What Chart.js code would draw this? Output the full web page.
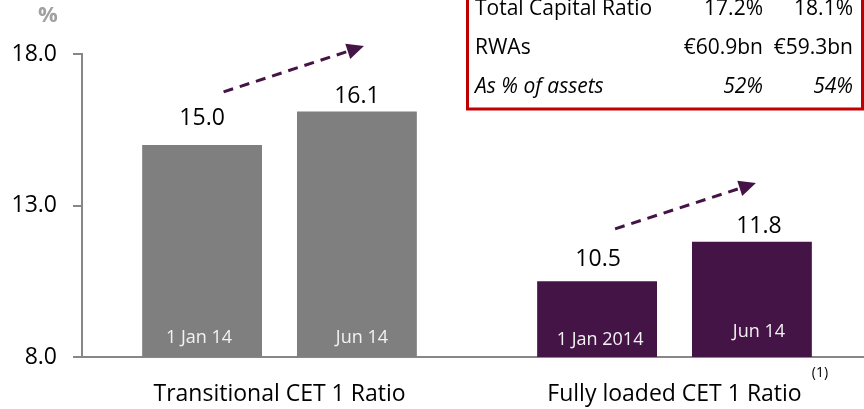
<!DOCTYPE html>
<html>
<head>
<meta charset="utf-8">
<script src="https://cdn.jsdelivr.net/npm/chart.js@4.4.0/dist/chart.umd.min.js"></script>
<style>
  html, body { margin: 0; padding: 0; background: #fff; overflow: hidden; }
  #wrap { position: relative; width: 872px; height: 409px; }
</style>
</head>
<body>
<div id="wrap"><canvas id="capitalChart"></canvas></div>
<script>
// chart data
const categories = ['Transitional CET 1 Ratio', 'Fully loaded CET 1 Ratio'];
const janValues = [15.0, 10.5];
const junValues = [16.1, 11.8];
const janBarLabels = ['1 Jan 14', '1 Jan 2014'];
const junBarLabels = ['Jun 14', 'Jun 14'];
const yTicks = [8, 13, 18];

// box in the top right corner
const tableRows = ['Total Capital Ratio', 'RWAs', 'As % of assets'];
const tableJan = ['17.2%', '€60.9bn', '52%'];
const tableJun = ['18.1%', '€59.3bn', '54%'];

const FONT = '"Open Sans", sans-serif';
const GREY = '#7f7f7f';
const PURPLE = '#451446';

// extra drawing: values, labels in bars, arrows, table
const extras = {
    id: 'extras',
    afterDatasetsDraw(chart) {
        const ctx = chart.ctx;
        const y = chart.scales.y;
        const bottom = chart.chartArea.bottom;
        const bars = [
            chart.getDatasetMeta(0).data[0], chart.getDatasetMeta(1).data[0],
            chart.getDatasetMeta(0).data[1], chart.getDatasetMeta(1).data[1]
        ];
        const values = [janValues[0], junValues[0], janValues[1], junValues[1]];
        const inner = [janBarLabels[0], junBarLabels[0], janBarLabels[1], junBarLabels[1]];
        const valOff = [-26, -15, -22, -15];
        const valDx = [0, 0, 1, 7];
        const inOff = [19, 19, 17, 25];
        const inDx = [-3, 5, 3, 7];

        ctx.save();
        ctx.textAlign = 'center';
        ctx.textBaseline = 'middle';
        bars.forEach((b, i) => {
            ctx.fillStyle = '#000';
            ctx.font = '23px ' + FONT;
            ctx.fillText(values[i].toFixed(1), b.x + valDx[i], b.y + valOff[i]);
            ctx.fillStyle = '#f2f2f2';
            ctx.font = '18px ' + FONT;
            ctx.fillText(inner[i], b.x + inDx[i], bottom - inOff[i]);
        });

        // dashed arrows
        const arrows = [
            [bars[0].x + 21.5, 16.75, bars[1].x + 7, 18.26],
            [bars[2].x + 18, 12.23, bars[3].x + 4, 13.74]
        ];
        arrows.forEach(a => {
            const x1 = a[0], y1 = y.getPixelForValue(a[1]);
            const x2 = a[2], y2 = y.getPixelForValue(a[3]);
            const ang = Math.atan2(y2 - y1, x2 - x1);
            const hl = 17, hw = 8;
            const bx = x2 - hl * Math.cos(ang), by = y2 - hl * Math.sin(ang);
            ctx.strokeStyle = PURPLE;
            ctx.lineWidth = 3;
            ctx.setLineDash([10, 7]);
            ctx.beginPath();
            ctx.moveTo(x1, y1);
            ctx.lineTo(bx, by);
            ctx.stroke();
            ctx.setLineDash([]);
            ctx.fillStyle = PURPLE;
            ctx.beginPath();
            ctx.moveTo(x2, y2);
            ctx.lineTo(bx + hw * Math.sin(ang), by - hw * Math.cos(ang));
            ctx.lineTo(bx - hw * Math.sin(ang), by + hw * Math.cos(ang));
            ctx.closePath();
            ctx.fill();
        });

        // % unit label
        ctx.fillStyle = '#a0a0a0';
        ctx.font = 'bold 22px ' + FONT;
        ctx.fillText('%', 48, 16);

        // footnote
        ctx.fillStyle = '#000';
        ctx.font = '14px ' + FONT;
        ctx.fillText('(1)', 820, 373);

        // table box
        ctx.strokeStyle = '#c00000';
        ctx.lineWidth = 3;
        ctx.strokeRect(467.5, -10, 395, 119);
        ctx.fillStyle = '#000';
        ctx.textBaseline = 'alphabetic';
        tableRows.forEach((r, i) => {
            const base = 15 + i * 39;
            ctx.font = (i === 2 ? 'italic ' : '') + '21px ' + FONT;
            ctx.textAlign = 'left';
            ctx.fillText(r, 475, base);
            ctx.textAlign = 'right';
            ctx.fillText(tableJan[i], 763, base);
            ctx.fillText(tableJun[i], 853, base);
        });
        ctx.restore();
    }
};

const ctx = document.getElementById('capitalChart').getContext('2d');
new Chart(ctx, {
    type: 'bar',
    data: {
        labels: categories,
        datasets: [
            {
                label: 'Jan',
                data: janValues,
                backgroundColor: [GREY, PURPLE],
                categoryPercentage: 0.784,
                barPercentage: 0.774
            },
            {
                label: 'Jun',
                data: junValues,
                backgroundColor: [GREY, PURPLE],
                categoryPercentage: 0.784,
                barPercentage: 0.774
            }
        ]
    },
    options: {
        responsive: true,
        maintainAspectRatio: false,
        animation: false,
        layout: { padding: { top: 54, left: 10, right: 0, bottom: 0 } },
        plugins: {
            legend: { display: false },
            tooltip: { enabled: false }
        },
        scales: {
            y: {
                min: 8,
                max: 18,
                afterBuildTicks(scale) {
                    scale.ticks = yTicks.map(v => ({ value: v }));
                },
                afterFit(scale) { scale.width = 72; },
                grid: { drawOnChartArea: false, tickLength: 9, color: '#878787', lineWidth: 2 },
                border: { color: '#878787', width: 2 },
                ticks: {
                    color: '#000',
                    padding: 16,
                    font: { family: FONT, size: 23 },
                    callback: v => v.toFixed(1)
                }
            },
            x: {
                afterFit(scale) { scale.height = 52; },
                grid: { display: false, drawTicks: false },
                border: { display: true, color: '#878787', width: 2 },
                ticks: {
                    color: '#000',
                    padding: 24,
                    font: { family: FONT, size: 23 }
                }
            }
        }
    },
    plugins: [extras]
});
</script>
</body>
</html>
